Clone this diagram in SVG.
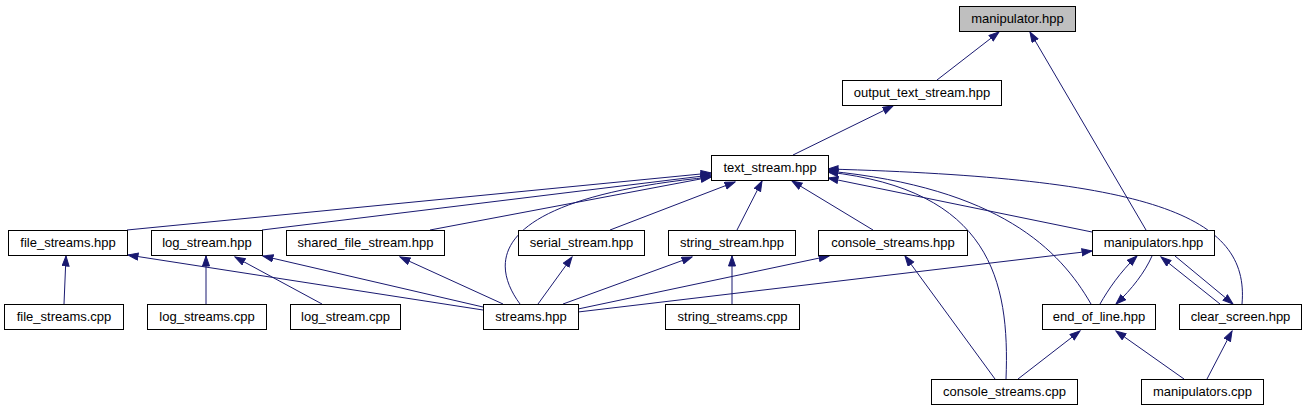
<svg xmlns="http://www.w3.org/2000/svg" width="1305" height="411" viewBox="0 0 1305 411">
<style>
.n rect{fill:#ffffff;stroke:#000000;stroke-width:1}
.n text{font-family:"Liberation Sans",Arial,sans-serif;font-size:13px;fill:#000000;text-anchor:middle}
#edges path{fill:none;stroke:#191970;stroke-width:1;marker-end:url(#ah)}
</style>
<defs>
<marker id="ah" markerUnits="userSpaceOnUse" markerWidth="12" markerHeight="9" refX="10.5" refY="4" orient="auto" viewBox="0 0 12 9">
<path d="M0.5,0.5 L10.5,4 L0.5,7.5 z" fill="#191970" stroke="#191970" stroke-width="1"/>
</marker>
</defs>
<rect width="1305" height="411" fill="#ffffff"/>
<g id="edges">
<path d="M937,80 L999,32"/>
<path d="M1146,230 L1030,32"/>
<path d="M793,155 L893,106"/>
<path d="M127,230 L711,173"/>
<path d="M262,230 L711,175"/>
<path d="M430,230 L711,177"/>
<path d="M520,304 C486,258 496,198 711,177"/>
<path d="M610,230 L735,182"/>
<path d="M737,230 L762,181"/>
<path d="M873,230 L792,181"/>
<path d="M1092,232 L828,178"/>
<path d="M1091,304 C1060,250 1000,188 828,171"/>
<path d="M1242,304 C1250,215 1150,178 828,169"/>
<path d="M1006,379 C1010,280 990,190 828,172"/>
<path d="M64,304 L66,256"/>
<path d="M206,304 L206,256"/>
<path d="M322,304 L235,257"/>
<path d="M483,310 L128,255"/>
<path d="M483,307 L263,256"/>
<path d="M503,304 L400,257"/>
<path d="M538,304 L572,257"/>
<path d="M563,304 L692,257"/>
<path d="M578,309 L829,256"/>
<path d="M578,312 L1092,251"/>
<path d="M732,304 L732,256"/>
<path d="M995,379 L905,256"/>
<path d="M1018,379 L1080,331"/>
<path d="M1184,379 L1116,331"/>
<path d="M1207,379 L1232,331"/>
<path d="M1100,304 C1108,290 1120,272 1137,256"/>
<path d="M1152,256 C1145,272 1132,289 1116,304"/>
<path d="M1220,304 L1161,257"/>
<path d="M1175,256 L1233,304"/>
</g>
<g id="n_manipulator_hpp" class="n"><rect x="959.5" y="6.5" width="116" height="25" style="fill:#bfbfbf"/><text x="1017.5" y="23">manipulator.hpp</text></g>
<g id="n_output_text_stream_hpp" class="n"><rect x="842.5" y="80.5" width="159" height="25"/><text x="922" y="97">output_text_stream.hpp</text></g>
<g id="n_text_stream_hpp" class="n"><rect x="711.5" y="155.5" width="117" height="25"/><text x="770" y="172">text_stream.hpp</text></g>
<g id="n_file_streams_hpp" class="n"><rect x="8.5" y="230.5" width="119" height="25"/><text x="68" y="247">file_streams.hpp</text></g>
<g id="n_log_stream_hpp" class="n"><rect x="151.5" y="230.5" width="111" height="25"/><text x="207" y="247">log_stream.hpp</text></g>
<g id="n_shared_file_stream_hpp" class="n"><rect x="286.5" y="230.5" width="158" height="25"/><text x="365.5" y="247">shared_file_stream.hpp</text></g>
<g id="n_serial_stream_hpp" class="n"><rect x="518.5" y="230.5" width="126" height="25"/><text x="581.5" y="247">serial_stream.hpp</text></g>
<g id="n_string_stream_hpp" class="n"><rect x="668.5" y="230.5" width="127" height="25"/><text x="732" y="247">string_stream.hpp</text></g>
<g id="n_console_streams_hpp" class="n"><rect x="818.5" y="230.5" width="149" height="25"/><text x="893" y="247">console_streams.hpp</text></g>
<g id="n_manipulators_hpp" class="n"><rect x="1092.5" y="230.5" width="122" height="25"/><text x="1153.5" y="247">manipulators.hpp</text></g>
<g id="n_file_streams_cpp" class="n"><rect x="4.5" y="304.5" width="119" height="25"/><text x="64" y="321">file_streams.cpp</text></g>
<g id="n_log_streams_cpp" class="n"><rect x="147.5" y="304.5" width="119" height="25"/><text x="207" y="321">log_streams.cpp</text></g>
<g id="n_log_stream_cpp" class="n"><rect x="290.5" y="304.5" width="110" height="25"/><text x="345.5" y="321">log_stream.cpp</text></g>
<g id="n_streams_hpp" class="n"><rect x="483.5" y="304.5" width="95" height="25"/><text x="531" y="321">streams.hpp</text></g>
<g id="n_string_streams_cpp" class="n"><rect x="665.5" y="304.5" width="134" height="25"/><text x="732.5" y="321">string_streams.cpp</text></g>
<g id="n_end_of_line_hpp" class="n"><rect x="1042.5" y="304.5" width="113" height="25"/><text x="1099" y="321">end_of_line.hpp</text></g>
<g id="n_clear_screen_hpp" class="n"><rect x="1179.5" y="304.5" width="122" height="25"/><text x="1240.5" y="321">clear_screen.hpp</text></g>
<g id="n_console_streams_cpp" class="n"><rect x="931.5" y="379.5" width="146" height="25"/><text x="1004.5" y="396">console_streams.cpp</text></g>
<g id="n_manipulators_cpp" class="n"><rect x="1141.5" y="379.5" width="122" height="25"/><text x="1202.5" y="396">manipulators.cpp</text></g>
</svg>
